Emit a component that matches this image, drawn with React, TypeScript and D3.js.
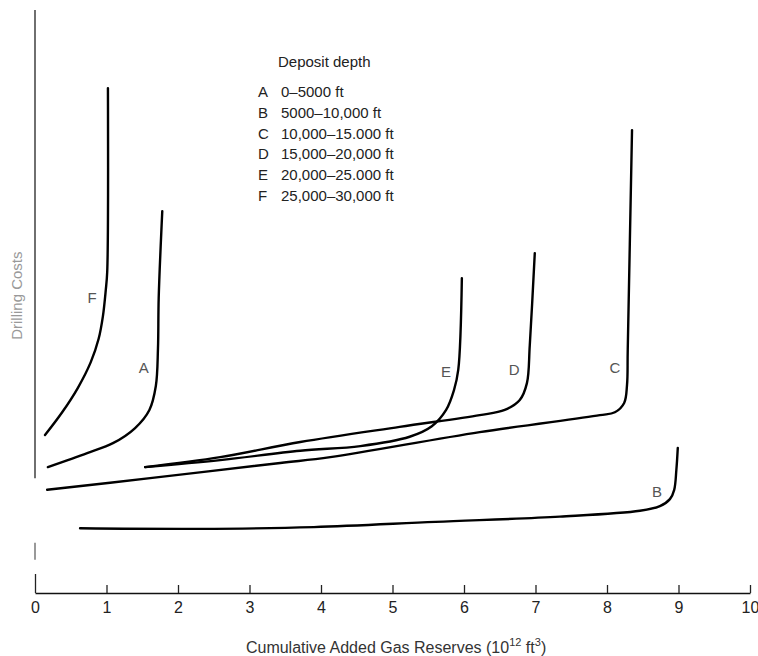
import React, { useRef, useEffect } from 'react';
import * as d3 from 'd3';

// x: cumulative added gas reserves (10^12 ft3), y: relative drilling cost (no scale printed)
const xTicks = [0, 1, 2, 3, 4, 5, 6, 7, 8, 9, 10];
const curveNames = ['A', 'B', 'C', 'D', 'E', 'F'];
const depthRanges = [
    '0–5000 ft',
    '5000–10,000 ft',
    '10,000–15.000 ft',
    '15,000–20,000 ft',
    '20,000–25.000 ft',
    '25,000–30,000 ft',
];

const curveA: [number, number][] = [
    [0.18, 21.6], [0.73, 24.0], [1.09, 25.7], [1.40, 28.3], [1.60, 31.4],
    [1.69, 35.5], [1.72, 42.0], [1.73, 50.6], [1.78, 65.5],
];
const curveB: [number, number][] = [
    [0.63, 11.1], [2.30, 11.0], [3.90, 11.3], [5.60, 12.2], [7.34, 13.1], [8.46, 14.1],
    [8.74, 14.9], [8.88, 16.1], [8.94, 17.7], [8.97, 21.1], [8.99, 24.9],
];
const curveC: [number, number][] = [
    [0.17, 17.7], [1.61, 19.7], [3.43, 22.3], [4.13, 23.3], [6.22, 27.6],
    [7.90, 30.5], [8.11, 31.0], [8.24, 32.6], [8.28, 35.7], [8.29, 41.7], [8.35, 79.4],
];
const curveD: [number, number][] = [
    [1.54, 21.6], [2.59, 23.3], [3.71, 25.9], [5.10, 28.5], [6.22, 30.5],
    [6.57, 31.4], [6.78, 33.1], [6.88, 36.0], [6.92, 42.5], [6.99, 58.3],
];
const curveE: [number, number][] = [
    [1.54, 21.6], [2.59, 22.8], [3.71, 24.4], [4.55, 25.2], [5.24, 26.8],
    [5.55, 28.6], [5.75, 31.4], [5.86, 34.8], [5.92, 38.3], [5.97, 54.0],
];
const curveF: [number, number][] = [
    [0.14, 27.1], [0.38, 31.0], [0.60, 35.2], [0.78, 39.6], [0.89, 43.6],
    [0.95, 47.5], [0.99, 52.0], [1.01, 55.1], [1.02, 86.6],
];
const curves = [curveA, curveB, curveC, curveD, curveE, curveF];

// where each curve letter sits (data units)
const labelSpots: [number, number][] = [
    [1.52, 38.6], [8.70, 17.3], [8.11, 38.6], [6.70, 38.3], [5.75, 37.9], [0.80, 50.6],
];

const width = 758;
const height = 656;
const font = 'Liberation Sans, Arial, Helvetica, sans-serif';

const GasCostChart = () => {
    const svgRef = useRef<SVGSVGElement>(null);

    useEffect(() => {
        const svg = d3.select(svgRef.current);
        svg.selectAll('*').remove();

        const x = d3.scaleLinear().domain([0, 10]).range([35, 750]);
        const y = d3.scaleLinear().domain([0, 100]).range([593, 10]);

        // x axis, ticks pointing up into the plot
        const xAxis = d3.axisBottom(x)
            .tickValues(xTicks)
            .tickFormat(d3.format('d'))
            .tickSizeInner(-8)
            .tickSizeOuter(0)
            .tickPadding(9);

        const gx = svg.append('g')
            .attr('transform', `translate(0, ${y(0)})`)
            .call(xAxis);
        gx.select('.domain').attr('stroke', '#111').attr('stroke-width', 1.6);
        gx.selectAll('.tick line').attr('stroke', '#222').attr('stroke-width', 1.3);
        gx.selectAll('.tick line').filter((d) => d === 0).attr('y2', -19);
        gx.selectAll('.tick text')
            .attr('font-family', font)
            .attr('font-size', 16)
            .attr('fill', '#222');

        // y axis: plain rule, broken near the bottom
        svg.append('line')
            .attr('x1', x(0)).attr('x2', x(0))
            .attr('y1', y(19.7)).attr('y2', y(100))
            .attr('stroke', '#333').attr('stroke-width', 1.4);
        svg.append('line')
            .attr('x1', x(0)).attr('x2', x(0))
            .attr('y1', y(5.7)).attr('y2', y(8.6))
            .attr('stroke', '#555').attr('stroke-width', 1.2);

        svg.append('text')
            .attr('transform', `translate(22, ${y(51)}) rotate(-90)`)
            .attr('text-anchor', 'middle')
            .attr('font-family', font)
            .attr('font-size', 15)
            .attr('fill', '#999')
            .text('Drilling Costs');

        svg.append('text')
            .attr('x', x(5.05))
            .attr('y', 653)
            .attr('text-anchor', 'middle')
            .attr('font-family', font)
            .attr('font-size', 16)
            .attr('fill', '#333')
            .call((t) => {
                t.append('tspan').text('Cumulative Added Gas Reserves (10');
                t.append('tspan').attr('dy', -7).attr('font-size', 11).text('12');
                t.append('tspan').attr('dy', 7).text('  ft');
                t.append('tspan').attr('dy', -7).attr('font-size', 11).text('3');
                t.append('tspan').attr('dy', 7).text(')');
            });

        // curves
        const line = d3.line<[number, number]>()
            .x((d) => x(d[0]))
            .y((d) => y(d[1]))
            .curve(d3.curveCatmullRom.alpha(0.5));

        svg.append('g')
            .selectAll('path')
            .data(curves)
            .enter()
            .append('path')
            .attr('d', (d) => line(d))
            .attr('fill', 'none')
            .attr('stroke', '#000')
            .attr('stroke-width', 2.4)
            .attr('stroke-linecap', 'round');

        svg.append('g')
            .selectAll('text')
            .data(labelSpots)
            .enter()
            .append('text')
            .attr('x', (d) => x(d[0]))
            .attr('y', (d) => y(d[1]))
            .attr('dy', '0.35em')
            .attr('text-anchor', 'middle')
            .attr('font-family', font)
            .attr('font-size', 15)
            .attr('fill', '#555')
            .text((d, i) => curveNames[i]);

        // legend
        const legend = svg.append('g').attr('font-family', font).attr('font-size', 15).attr('fill', '#222');
        legend.append('text').attr('x', 278).attr('y', 67).text('Deposit depth');
        const rows = legend.selectAll('.row')
            .data(depthRanges)
            .enter()
            .append('g')
            .attr('class', 'row')
            .attr('transform', (d, i) => `translate(0, ${97 + i * 20.8})`);
        rows.append('text').attr('x', 258).text((d, i) => curveNames[i]);
        rows.append('text').attr('x', 281).text((d) => d);
    }, []);

    return (
        <svg
            ref={svgRef}
            width={width}
            height={height}
            style={{ position: 'absolute', left: 0, top: 0, background: '#fff' }}
        />
    );
};

export default function App() {
    return <GasCostChart />;
}
